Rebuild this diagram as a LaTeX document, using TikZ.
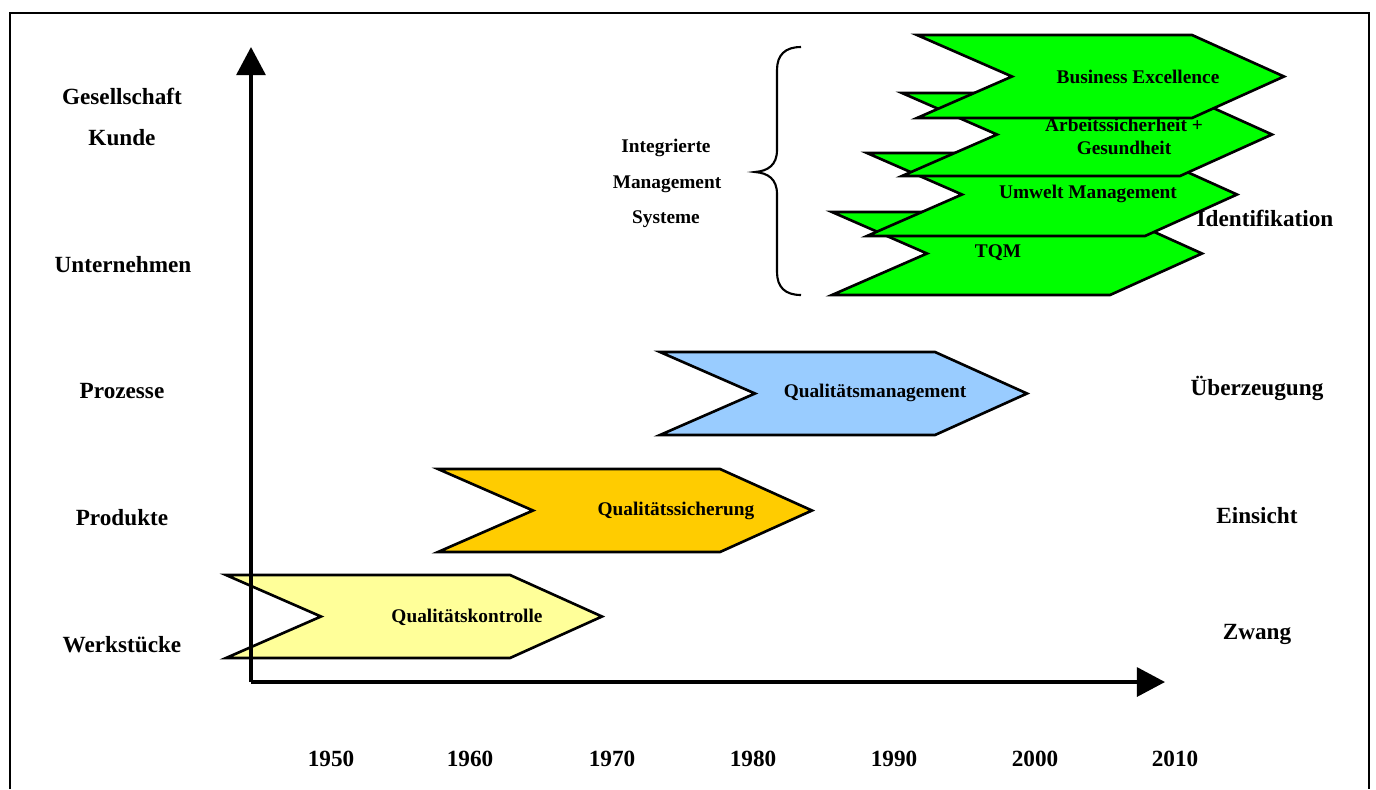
\documentclass[tikz,border=0pt]{standalone}
\usepackage{fontspec}
\setmainfont{Liberation Serif}
\usepackage{xcolor}
\usepackage{tikz}
\usetikzlibrary{arrows.meta}

\definecolor{kontrollgelb}{HTML}{FFFF99}
\definecolor{sicherorange}{HTML}{FFCC00}
\definecolor{managementblau}{HTML}{99CCFF}
\definecolor{imsgruen}{HTML}{00FF00}

% chevron: fill, left x, top y, right corner x
\newcommand{\chev}[4]{%
  \filldraw[chevline,fill=#1] (#2,#3) -- ++(95,41.5) -- ++(-95,41.5) -- (#4,#3+83) -- ++(92,-41.5) -- ++(-92,-41.5) -- cycle;}

\begin{document}
\begin{tikzpicture}[x=0.02cm,y=-0.02cm,>=Stealth,
  every node/.style={font=\bfseries\fontsize{13.2}{15}\selectfont,inner sep=0pt},
  small/.style={font=\bfseries\fontsize{11}{13}\selectfont},
  chevline/.style={draw=black,line width=1.5pt,line join=miter},
  axis/.style={line width=1.9pt,-{Triangle[length=16pt,width=16.5pt]}},
  bracket/.style={line width=1.2pt}]
\useasboundingbox (0,0) rectangle (1376,789);
\draw[line width=.9pt] (10,789)--(10,13)--(1369,13)--(1369,789);
% left scale
\node (gesellschaft) at (122,96) {Gesellschaft};
\node (kunde) at (122,138) {Kunde};
\node (unternehmen) at (123,265) {Unternehmen};
\node (prozesse) at (122,391) {Prozesse};
\node (produkte) at (122,518) {Produkte};
\node (werkstuecke) at (122,645) {Werkstücke};
% right scale
\node (identifikation) at (1265,218) {Identifikation};
\node (ueberzeugung) at (1257,388) {Überzeugung};
\node (einsicht) at (1257,516) {Einsicht};
\node (zwang) at (1257,634) {Zwang};
% years
\node (y1950) at (331,759) {1950};
\node (y1960) at (470,759) {1960};
\node (y1970) at (612,759) {1970};
\node (y1980) at (753,759) {1980};
\node (y1990) at (894,759) {1990};
\node (y2000) at (1035,759) {2000};
\node (y2010) at (1175,759) {2010};
% stages
\chev{kontrollgelb}{226}{575}{510}
\node[small] (kontrolle) at (467,617) {Qualitätskontrolle};
\chev{sicherorange}{438}{469}{720}
\node[small] (sicherung) at (676,511) {Qualitätssicherung};
\chev{managementblau}{660}{352}{935}
\node[small] (qm) at (875,393) {Qualitätsmanagement};
\chev{imsgruen}{832}{212}{1110}
\node[small] (tqm) at (998,253) {TQM};
\chev{imsgruen}{867}{153}{1145}
\node[small] (umwelt) at (1088,194) {Umwelt Management};
\chev{imsgruen}{902}{93}{1180}
\node[small,align=center] (arbeit) at (1124,136) {Arbeitssicherheit +\\Gesundheit};
\chev{imsgruen}{917}{35}{1192}
\node[small] (excellence) at (1138,77) {Business Excellence};
% brace + IMS
\draw[bracket] (801,47) .. controls (785,47) and (777,55) .. (777,70) -- (777,150)
  .. controls (777,165) and (768,171) .. (755,172)
  .. controls (768,173) and (777,179) .. (777,194) -- (777,272)
  .. controls (777,287) and (785,295) .. (801,295);
\node[small] (integrierte) at (666,148) {Integrierte};
\node[small] (managementsys) at (667,184) {Management};
\node[small] (systeme) at (666,219) {Systeme};
% axes
\coordinate (origin) at (251,682);
\coordinate (ytop) at (251,47);
\coordinate (xend) at (1165,682);
\draw[axis] (origin)--(ytop);
\draw[axis] (origin)--(xend);
\end{tikzpicture}
\end{document}
